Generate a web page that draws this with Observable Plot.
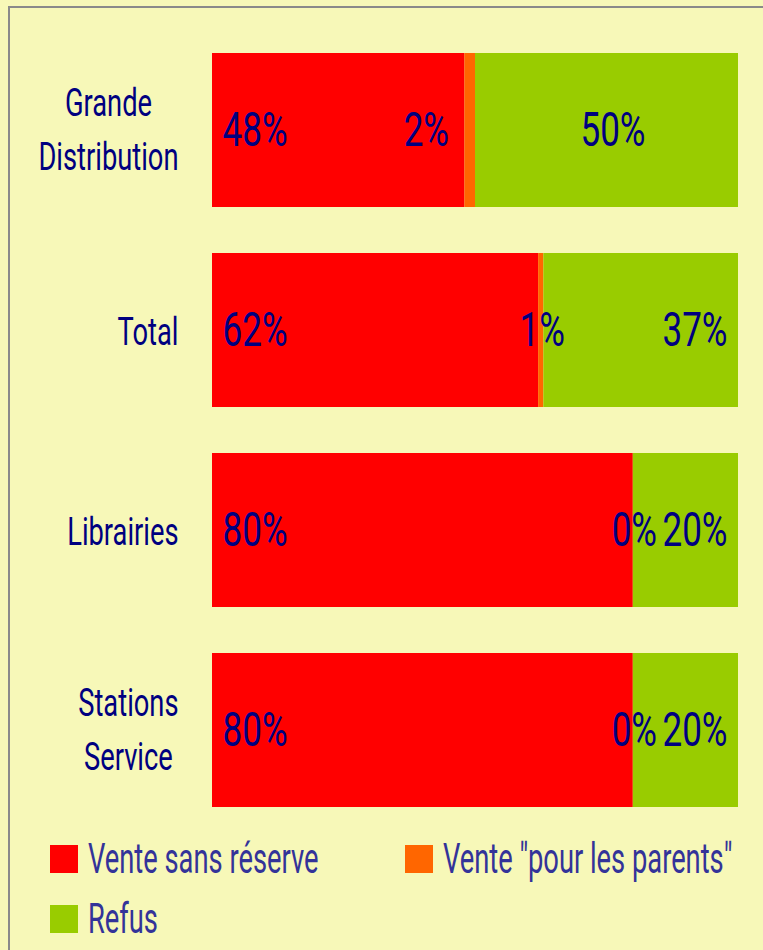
<!DOCTYPE html>
<html><head><meta charset="utf-8">
<script src="https://cdn.jsdelivr.net/npm/d3@7"></script>
<script src="https://cdn.jsdelivr.net/npm/@observablehq/plot@0.6"></script>
<style>
html,body{margin:0;padding:0;background:#F7F8B8;width:763px;height:950px;overflow:hidden;}
#frame{position:absolute;left:8px;top:6px;width:900px;height:1100px;border-left:2px solid #8a8a8a;border-top:2px solid #8a8a8a;box-sizing:border-box;}
#chart{position:absolute;left:0;top:0;}
.item{position:absolute;height:28px;font-family:Roboto,"DejaVu Sans Condensed",sans-serif;font-size:42px;color:#333399;white-space:nowrap;}
.sw{position:absolute;left:0;top:0;width:28px;height:28px;}
.tx{position:absolute;left:38px;top:-11px;line-height:50px;display:inline-block;transform:scaleX(0.65);transform-origin:0 0;}
</style>
</head><body>
<div id="frame"></div>
<div id="chart"></div>
<div id="legend"></div>
<script>
const categories = ["Grande Distribution", "Total", "Librairies", "Stations Service"];
const tickLabels = ["Grande\nDistribution", "Total", "Librairies", "Stations\nService"];
const series = ["Vente sans réserve", "Vente \"pour les parents\"", "Refus"];
const venteSansReserve = [48, 62, 80, 80];
const ventePourParents = [2, 1, 0, 0];
const refus = [50, 37, 20, 20];
const colors = ["#FF0000", "#FF6600", "#99CC00"];

const values = [venteSansReserve, ventePourParents, refus];
const rows = [];
categories.forEach((c, i) => {
  series.forEach((s, j) => rows.push({cat: c, series: s, value: values[j][i]}));
});

// label placement (in x units), mimicking the original's placement
const W = 763, ML = 212, MR = 25;
const px = (W - ML - MR) / 100; // pixels per unit
const labels = [];
categories.forEach((c, i) => {
  const a = venteSansReserve[i], b = ventePourParents[i], g = refus[i];
  labels.push({cat: c, text: a + "%", x: 10 / px, anchor: "start"});
  if (i === 0) labels.push({cat: c, text: b + "%", x: a - 16 / px, anchor: "end"});
  else labels.push({cat: c, text: b + "%", x: a + b / 2 + 1 / px, anchor: "middle"});
  if (i === 0) labels.push({cat: c, text: g + "%", x: a + b + g / 2 + 6 / px, anchor: "middle"});
  else labels.push({cat: c, text: g + "%", x: 100 - 11 / px, anchor: "end"});
});

const font = 'Roboto,"DejaVu Sans Condensed",sans-serif';
const textMarks = ["start", "middle", "end"].map(an =>
  Plot.text(labels.filter(d => d.anchor === an), {
    x: "x", y: "cat", text: "text", textAnchor: an,
    fontSize: 48, fill: "#000080", fontFamily: font, className: "pct"
  }));

const chart = Plot.plot({
  width: W, height: 832,
  marginLeft: ML, marginRight: MR, marginTop: 29, marginBottom: 0,
  style: {background: "transparent", fontFamily: font, overflow: "visible"},
  x: {domain: [0, 100], axis: null},
  y: {domain: categories, paddingInner: 0.228, paddingOuter: 0.114, axis: null},
  color: {domain: series, range: colors},
  marks: [
    Plot.barX(rows, Plot.stackX({x: "value", y: "cat", fill: "series"})),
    Plot.axisY({tickSize: 0, tickPadding: 34, fontSize: 39, lineHeight: 1.38, dy: -3,
      tickFormat: d => tickLabels[categories.indexOf(d)], label: null, color: "#000080"}),
    ...textMarks
  ]
});
document.getElementById("chart").appendChild(chart);

function squeeze(t, s) {
  const tr = t.getAttribute("transform") || "";
  t.setAttribute("transform", tr + ` scale(${s},1)`);
}
// tick labels: condensed, multi-line centered on each other, block right-aligned
chart.querySelectorAll('g[aria-label="y-axis tick label"]').forEach(g => g.setAttribute("fill", "#000080"));
chart.querySelectorAll('g[aria-label="y-axis tick label"] text').forEach(t => {
  const spans = t.querySelectorAll("tspan");
  if (spans.length > 1) {
    let maxW = 0;
    spans.forEach(s => { maxW = Math.max(maxW, s.getComputedTextLength()); });
    t.setAttribute("text-anchor", "middle");
    const cur = parseFloat(spans[0].getAttribute("x") || 0);
    spans.forEach(s => s.setAttribute("x", cur - maxW / 2));
    t.setAttribute("transform", (t.getAttribute("transform") || "") + " translate(0,-2)");
  }
  squeeze(t, 0.70);
});
chart.querySelectorAll('g.pct text, .pct text').forEach(t => squeeze(t, 0.73));

// legend
const legend = document.getElementById("legend");
const pos = [[50, 845], [405, 845], [50, 905]];
series.forEach((s, j) => {
  const it = document.createElement("div");
  it.className = "item";
  it.style.left = pos[j][0] + "px";
  it.style.top = pos[j][1] + "px";
  const sw = document.createElement("span");
  sw.className = "sw";
  sw.style.background = colors[j];
  const tx = document.createElement("span");
  tx.className = "tx";
  tx.textContent = s;
  it.appendChild(sw); it.appendChild(tx);
  legend.appendChild(it);
});
</script>
</body></html>
